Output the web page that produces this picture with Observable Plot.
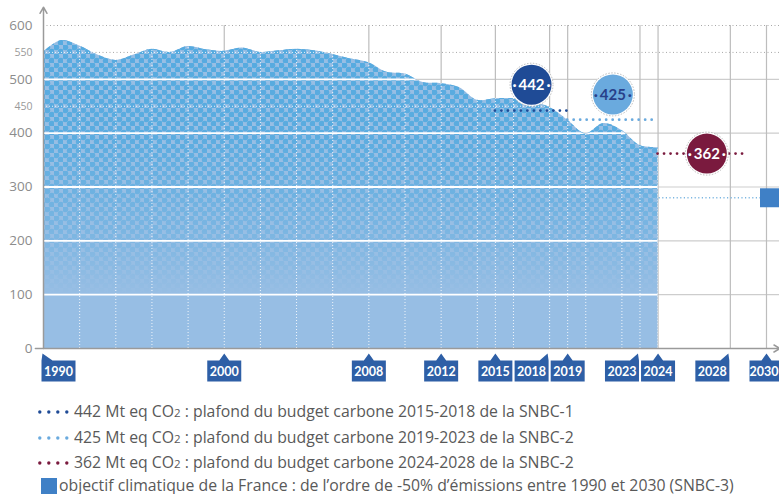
<!DOCTYPE html>
<html><head><meta charset="utf-8">
<script src="https://cdn.jsdelivr.net/npm/d3@7"></script>
<script src="https://cdn.jsdelivr.net/npm/@observablehq/plot@0.6"></script>
<style>
body{margin:0;background:#fff;font-family:"Open Sans",Lato,sans-serif;overflow:hidden}
#chart svg{display:block}
#legend{padding-left:38px;color:#595959;font-size:15.8px;font-family:"Open Sans",sans-serif;padding-top:0.25px;line-height:1}
.item{height:25.5px;display:flex;align-items:center;white-space:nowrap;}
.item.last{height:16px;margin-top:2.5px}
.item svg{margin-right:5px;flex:none}
.sq{width:16px;height:16px;margin:0 2px 0 3px;flex:none}
.two{font-size:11.5px}
</style></head><body>
<div id="chart"></div>
<div id="legend"></div>
<script>
// ---- data ----
const years = [1990,1991,1992,1993,1994,1995,1996,1997,1998,1999,2000,2001,2002,2003,2004,2005,2006,2007,2008,2009,2010,2011,2012,2013,2014,2015,2016,2017,2018,2019,2020,2021,2022,2023,2024];
const emissions = [550,572,562,545,535,545,556,550,561,555,552,558,550,553,556,553,546,538,531,513,510,494,492,485,461,464,464,459,448,424,399,418,405,377,373];

const budgetValues = [442, 425, 362];
const budgetStart = [2015, 2019, 2024];
const budgetEnd = [2019, 2024, 2029];
const bubbleYear = [2017, 2021.5, 2026.7];
const bubbleY = [490, 472, 362];
const budgetLabels = ["·\u2009442\u2009·", "·\u2009425\u2009·", "·\u2009362\u2009·"];

const targetYear = 2030;
const targetValue = 280;

const axisYears = [1990, 2000, 2008, 2012, 2015, 2018, 2019, 2023, 2024, 2028, 2030];
const yTicksMajor = [0, 100, 200, 300, 400, 500, 600];
const yTicksMinor = [450, 550];

const legendTexts = [
  ["442 Mt eq CO", "2", " : plafond du budget carbone 2015-2018 de la SNBC-1"],
  ["425 Mt eq CO", "2", " : plafond du budget carbone 2019-2023 de la SNBC-2"],
  ["362 Mt eq CO", "2", " : plafond du budget carbone 2024-2028 de la SNBC-2"],
  ["objectif climatique de la France : de l’ordre de -50% d’émissions entre 1990 et 2030 (SNBC-3)"]
];

// ---- styles ----
const budgetColors = ["#1f4b96", "#6aaade", "#7a1a3e"];
const bubbleText = ["#ffffff", "#27408a", "#ffffff"];
const boxColor = "#2e5fa6";
const pointerLeft = new Set([1990]);
const pointerRight = new Set([2018, 2023, 2028]);
const edgeYear = 2030;

const area = years.map((y, i) => ({year: y, value: emissions[i]}));
const budgets = budgetValues.map((v, i) => ({value: v, start: budgetStart[i], end: budgetEnd[i], bx: bubbleYear[i], by: bubbleY[i], label: budgetLabels[i], color: budgetColors[i], text: bubbleText[i]}));
const yearsData = axisYears.map(y => ({year: y, kind: pointerLeft.has(y) ? "L" : pointerRight.has(y) ? "R" : "C"}));
const dottedV = d3.range(1992, 2025, 2).concat([2015, 2019, 2023]);

const symC = {draw(c){c.moveTo(-17,-10.5);c.lineTo(-5,-10.5);c.lineTo(0,-17.5);c.lineTo(5,-10.5);c.lineTo(17,-10.5);c.lineTo(17,10.5);c.lineTo(-17,10.5);c.closePath();}};
const symL = {draw(c){c.moveTo(-2,-10.5);c.lineTo(-1,-17.5);c.lineTo(9,-10.5);c.lineTo(32,-10.5);c.lineTo(32,10.5);c.lineTo(-2,10.5);c.closePath();}};
const symR = {draw(c){c.moveTo(-35,-10.5);c.lineTo(-10,-10.5);c.lineTo(-2,-17.5);c.lineTo(-1,-10.5);c.lineTo(-1,10.5);c.lineTo(-35,10.5);c.closePath();}};

const XR = 2030.75;
const tagged = {};
const marks = [];
function add(mark, tag) { if (tag) tagged[tag] = marks.length; marks.push(mark); }
const boxText = {fill: "white", fontSize: 12.5, fontWeight: 700, fontFamily: "Lato, sans-serif"};

add(Plot.ruleY([100, 200, 300, 400, 500], {x1: 1990, x2: XR, stroke: "#cdcdcd", strokeWidth: 1.2}));
add(Plot.ruleY([550, 600], {x1: 1990, x2: XR, stroke: "#a8a8a8", strokeDasharray: "1 2.5"}));
add(Plot.ruleX(axisYears.filter(y => y > 1990), {y1: 0, y2: 600, stroke: "#bdbdbd", strokeWidth: 1.2}));
add(Plot.areaY(area, {x: "year", y: "value", curve: "catmull-rom", fill: "#97bee4"}), "base");
add(Plot.areaY(area, {x: "year", y: "value", curve: "catmull-rom", fill: "url(#halftone)"}), "dots");
add(Plot.ruleY([100, 200, 300, 400, 500], {x1: 1990, x2: XR, stroke: "white", strokeWidth: 1.8}), "w1");
add(Plot.ruleY([450, 550], {x1: 1990, x2: XR, stroke: "white", strokeOpacity: 0.85, strokeDasharray: "1 2"}), "w2");
add(Plot.ruleX(dottedV, {y1: 0, y2: 600, stroke: "white", strokeOpacity: 0.85, strokeDasharray: "1 2"}), "w3");
add(Plot.ruleY([targetValue], {x1: 1990, x2: targetYear, stroke: "#7db7e2", strokeWidth: 1.4, strokeDasharray: "1.2 2.4"}));
add(Plot.ruleY(budgets, {y: "value", x1: "start", x2: "end", stroke: "color", strokeWidth: 2.8, strokeDasharray: "0 6.5", strokeLinecap: "round"}));
add(Plot.dot(budgets, {x: "bx", y: "by", r: 21.5, fill: "white", stroke: "#a9a9a9", strokeWidth: 0.8, strokeDasharray: "1.5 1.5"}));
add(Plot.dot(budgets, {x: "bx", y: "by", r: 20, fill: "color"}));
add(Plot.text(budgets, {x: "bx", y: "by", text: "label", fill: "text", fontSize: 15, fontWeight: 700, fontFamily: "Lato, sans-serif", dy: 0.5}));
add(Plot.dot([targetValue], {x: targetYear, y: d => d, dx: 3, symbol: "square", r: 10.7, fill: "#3f80c6"}));
add(Plot.arrow([0], {x1: 1990, y1: 0, x2: 1990, y2: 634, stroke: "#9a9a9a", strokeWidth: 1.5, headLength: 7}));
add(Plot.arrow([0], {x1: 1989.55, y1: 0, x2: XR, y2: 0, stroke: "#9a9a9a", strokeWidth: 1.5, headLength: 7}));
add(Plot.text(yTicksMajor, {x: 1990, y: d => d, dx: -11, textAnchor: "end", fontSize: 13.5, fill: "#8c8c8c"}));
add(Plot.text(yTicksMinor, {x: 1990, y: d => d, dx: -11, textAnchor: "end", fontSize: 10.5, fill: "#9a9a9a"}));
add(Plot.dot(yearsData.filter(d => d.kind === "C"), {x: "year", y: 0, dy: 22.5, symbol: symC, fill: boxColor}));
add(Plot.dot(yearsData.filter(d => d.kind === "L"), {x: "year", y: 0, dy: 22.5, symbol: symL, fill: boxColor}));
add(Plot.dot(yearsData.filter(d => d.kind === "R"), {x: "year", y: 0, dy: 22.5, symbol: symR, fill: boxColor}));
add(Plot.text(yearsData.filter(d => d.kind === "C" && d.year !== edgeYear), {x: "year", y: 0, dy: 23.5, text: d => String(d.year), ...boxText}));
add(Plot.text(yearsData.filter(d => d.year === edgeYear), {x: "year", y: 0, dy: 23.5, dx: -2.5, text: d => String(d.year), ...boxText}));
add(Plot.text(yearsData.filter(d => d.kind === "L"), {x: "year", y: 0, dy: 23.5, dx: 15, text: d => String(d.year), ...boxText}));
add(Plot.text(yearsData.filter(d => d.kind === "R"), {x: "year", y: 0, dy: 23.5, dx: -18, text: d => String(d.year), ...boxText}));

const plot = Plot.plot({
  width: 779, height: 399,
  marginLeft: 43, marginRight: 13, marginTop: 25, marginBottom: 51,
  x: {domain: [1990, 2030], axis: null},
  y: {domain: [0, 600], axis: null},
  color: {type: "identity"},
  style: {fontFamily: "'Open Sans', Lato, sans-serif", background: "white", overflow: "visible"},
  marks
});

// defs: halftone pattern, fade mask, clip to area
const svg = d3.select(plot);
const groups = Array.from(plot.children).filter(n => n.tagName.toLowerCase() === "g");
const yS = plot.scale("y");
const defs = svg.insert("defs", ":first-child");
const pat = defs.append("pattern").attr("id", "halftone").attr("patternUnits", "userSpaceOnUse").attr("width", 9).attr("height", 9);
pat.append("circle").attr("cx", 2.25).attr("cy", 2.25).attr("r", 3).attr("fill", "#55aadf");
pat.append("circle").attr("cx", 6.75).attr("cy", 6.75).attr("r", 3).attr("fill", "#55aadf");
const grad = defs.append("linearGradient").attr("id", "fadeGrad").attr("gradientUnits", "userSpaceOnUse")
  .attr("x1", 0).attr("x2", 0).attr("y1", yS.apply(600)).attr("y2", yS.apply(100));
[[0, 1], [0.4, 0.92], [0.75, 0.45], [1, 0]].forEach(([o, a]) => grad.append("stop").attr("offset", o).attr("stop-color", "white").attr("stop-opacity", a));
defs.append("mask").attr("id", "fade").attr("maskUnits", "userSpaceOnUse").attr("x", 0).attr("y", 0).attr("width", 779).attr("height", 399)
  .append("rect").attr("width", 779).attr("height", 399).attr("fill", "url(#fadeGrad)");
if (groups.length === marks.length) {
  const basePath = groups[tagged.base].querySelector("path");
  if (basePath) {
    defs.append("clipPath").attr("id", "areaClip").append("path").attr("d", basePath.getAttribute("d"))
      .attr("transform", groups[tagged.base].getAttribute("transform"));
    ["w1", "w2", "w3"].forEach(k => groups[tagged[k]].setAttribute("clip-path", "url(#areaClip)"));
  }
  groups[tagged.dots].setAttribute("mask", "url(#fade)");
}

document.getElementById("chart").appendChild(plot);

// legend
const leg = document.getElementById("legend");
legendTexts.forEach((t, i) => {
  const item = document.createElement("div");
  item.className = i === 3 ? "item last" : "item";
  if (i < 3) {
    const s = d3.create("svg").attr("width", 31).attr("height", 6);
    [1.8, 10.8, 19.8, 28.8].forEach(cx => s.append("circle").attr("cx", cx).attr("cy", 3).attr("r", 1.7).attr("fill", budgetColors[i]));
    item.appendChild(s.node());
    const span = document.createElement("span");
    span.append(t[0]);
    const sub = document.createElement("span"); sub.className = "two"; sub.textContent = t[1];
    span.append(sub, t[2]);
    item.appendChild(span);
  } else {
    const sq = document.createElement("div"); sq.className = "sq"; sq.style.background = "#3f80c6";
    item.appendChild(sq);
    const span = document.createElement("span"); span.textContent = t[0];
    item.appendChild(span);
  }
  leg.appendChild(item);
});
</script>
</body></html>
